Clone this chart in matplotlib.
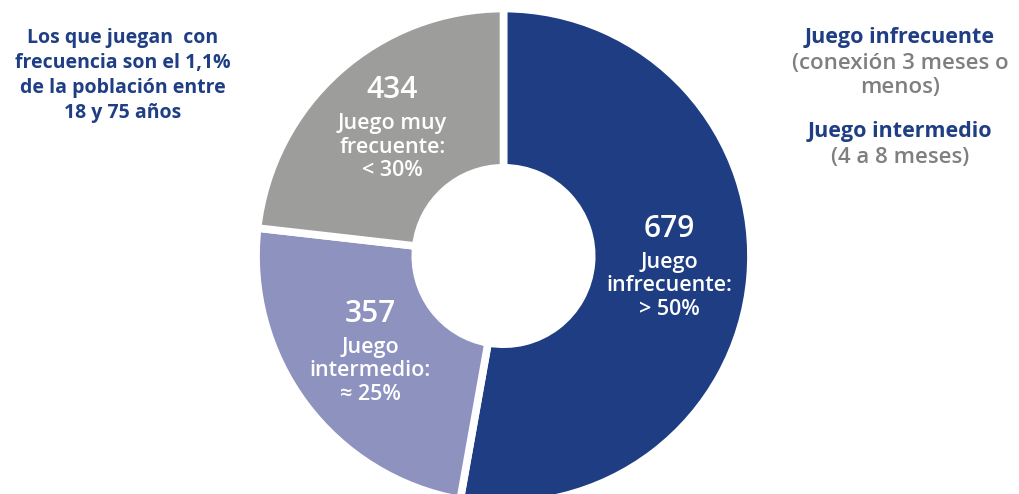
import numpy as np
import matplotlib.pyplot as plt

# Segment data (clockwise from the top)
counts = [679, 357, 434]
shares = [52.8, 24.0, 23.2]          # share of the ring, in %
names = ["Juego\ninfrecuente:", "Juego\nintermedio:", "Juego muy\nfrecuente:"]
pct_labels = ["> 50%", "\u2248 25%", "< 30%"]
colors = ["#1E3D83", "#8E92BF", "#9D9D9B"]

blue = "#1F3E84"
grey_txt = "#7F7F7F"
plt.rcParams['font.family'] = ['Open Sans', 'DejaVu Sans']

W, H = 1020, 494
fig = plt.figure(figsize=(W / 100, H / 100), dpi=100)

# ring centred at (503, 256) px, radius 245 px
cx, cy, r = 503.5, 256, 245
ax = fig.add_axes([(cx - r) / W, (H - cy - r) / H, 2 * r / W, 2 * r / H])
wedges, _ = ax.pie(shares, colors=colors, startangle=90, counterclock=False,
                   radius=1.01, wedgeprops=dict(width=0.65, edgecolor='white', linewidth=5.5))
ax.set_xlim(-1, 1)
ax.set_ylim(-1, 1)
ax.set_aspect('equal')
ax.axis('off')

# labels inside each segment
for w, n, name, p in zip(wedges, counts, names, pct_labels):
    mid = np.deg2rad((w.theta1 + w.theta2) / 2)
    x, y = 0.68 * np.cos(mid), 0.68 * np.sin(mid)
    ax.annotate(str(n), (x, y), xytext=(0, 30), textcoords='offset points',
                ha='center', va='center', fontsize=21.5, fontweight='semibold', color='white')
    ax.annotate(name + "\n" + p, (x, y), xytext=(0, -11), textcoords='offset points',
                ha='center', va='center', fontsize=15.5, fontweight='semibold', color='white',
                linespacing=1.17)

def ftext(x, y, s, weight='semibold', **kw):
    fig.text(x / W, 1 - y / H, s, ha='center', va='center', fontweight=weight, **kw)

title_lines = ["Los que juegan  con", "frecuencia son el 1,1%", "de la población entre", "18 y 75 años"]
for i, line in enumerate(title_lines):
    ftext(123, 38 + 25 * i, line, weight='bold', fontsize=14, color=blue)

ftext(900, 37, "Juego infrecuente", weight='bold', fontsize=15.5, color=blue)
ftext(900, 63, "(conexión 3 meses o", fontsize=16, color=grey_txt)
ftext(900, 88, "menos)", fontsize=16, color=grey_txt)
ftext(900, 131, "Juego intermedio", weight='bold', fontsize=15.5, color=blue)
ftext(900, 157, "(4 a 8 meses)", fontsize=16, color=grey_txt)

fig.savefig("out.png", dpi=100)
